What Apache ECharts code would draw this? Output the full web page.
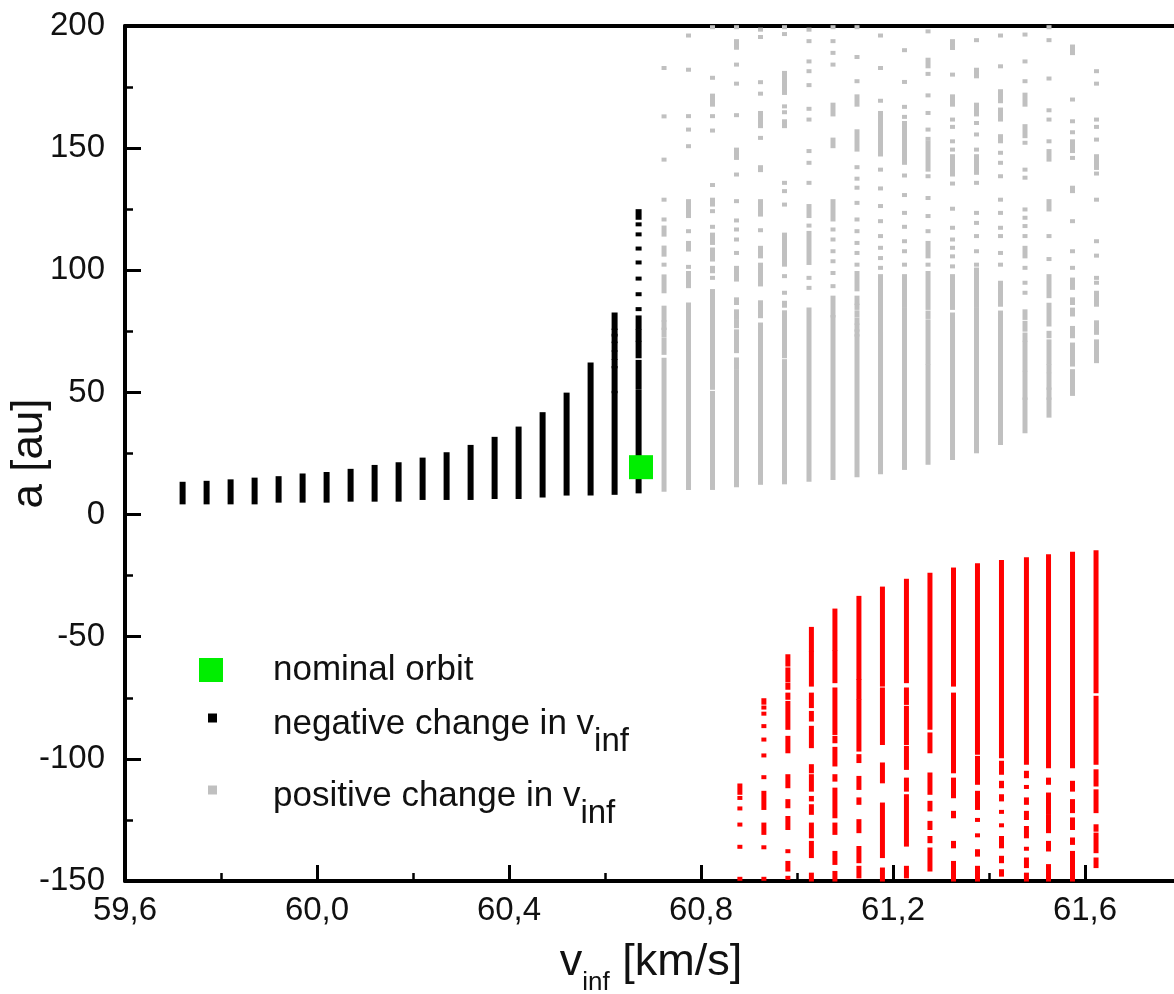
<!DOCTYPE html>
<html>
<head>
<meta charset="utf-8">
<script src="https://cdn.jsdelivr.net/npm/echarts/dist/echarts.min.js"></script>
<style>
html,body{margin:0;padding:0;background:#fff;}
#chart{width:1174px;height:994px;}
</style>
</head>
<body>
<div id="chart"></div>
<script>
// ---------- data (v_inf in km/s, a in au) ----------
const nominalOrbit = [60.675, 19.4];

const blackX = [59.72, 59.77, 59.82, 59.87, 59.92, 59.97, 60.02, 60.07, 60.12, 60.17,
                60.22, 60.27, 60.32, 60.37, 60.42, 60.47, 60.52, 60.57, 60.62, 60.67];
// each entry: list of runs; [lo,hi] = continuous run of points, single number = isolated point
const blackRuns = [
  [[5.0,12.6]], [[5.0,13.0]], [[5.0,13.6]], [[5.0,14.3]], [[5.7,14.9]],
  [[5.7,16.0]], [[5.7,16.6]], [[6.1,17.9]], [[6.1,19.5]], [[6.1,20.6]],
  [[6.8,22.5]], [[6.8,24.7]], [[6.8,27.7]], [[7.2,31.0]], [[7.2,35.2]],
  [[7.8,41.1]], [[8.6,49.1]], [[8.6,61.4]],
  [[76.4,81.9],[73.7,75.3],[71.0,73.2],[67.5,70.0],[64.1,66.4],[60.7,62.8],[50.5,60.0],[8.9,49.8]],
  [[121.5,124.2],118.8,114.7,108.9,103.2,96.6,90.2,84.1,[76.4,80.7],[71.6,75.0],[64.8,70.3],[51.9,62.5],[9.5,50.2]]
];

const grayX = [60.723, 60.774, 60.824, 60.874, 60.924, 60.974, 61.025, 61.075, 61.125, 61.174,
               61.224, 61.273, 61.324, 61.374, 61.424, 61.475, 61.525, 61.574, 61.624];
const grayRuns = [
  [182.8,163.0,145.3,128.9,120.8,[114.6,117.5],[106.4,109.3],102.3,[91.4,97.5],[79.8,84.7],[76.4,78.7],[73.3,75.7],[66.2,71.6],[10.2,63.4]],
  [196.1,182.1,163.1,157.6,150.8,[122.2,128.3],116.0,[108.5,111.2],101.4,[93.5,98.9],[79.8,86.0],[67.5,79.5],[10.9,66.2]],
  [199.5,178.8,[167.8,171.5],163.1,157.2,134.9,[126.9,128.9],124.2,117.8,[111.2,114.6],[104.4,108.5],[99.6,101.0],96.9,[88.8,91.5],[81.5,88.0],[62.1,80.5],[51.9,61.4],[10.9,49.8]],
  [199.5,[191.1,193.8],184.2,176.4,163.5,149.4,[146.0,148.1],139.2,128.3,120.4,116.7,112.6,107.1,[96.2,101.0],[86.6,88.1],[80.5,83.2],[77.1,79.1],[73.0,75.0],[66.9,71.6],[60.1,63.5],[12.0,58.7]],
  [198.5,195.5,177.0,172.3,[159.0,164.4],154.2,[141.0,142.2],[122.8,128.3],116.4,[105.7,109.2],[94.2,102.3],[81.2,86.9],[62.1,77.8],[50.5,61.4],[13.0,49.8]],
  [199.5,196.7,[172.6,180.8],167.1,164.7,[159.0,161.0],135.8,132.4,126.9,[102.3,114.6],97.6,90.8,[85.5,86.7],[70.3,82.8],[64.8,69.6],[13.2,62.8]],
  [198.5,193.8,185.5,181.5,175.8,166.1,161.7,148.8,144.0,135.8,[122.2,126.3],118.3,[103.0,115.3],96.9,92.8,[14.3,83.9]],
  [199.5,193.8,189.0,184.2,[163.8,167.8],[150.8,153.5],[120.8,128.3],116.7,112.6,107.8,103.7,98.9,93.5,[81.5,88.8],[15.0,80.9]],
  [199.5,187.3,177.4,[167.8,171.2],[149.4,156.9],142.2,137.5,133.8,127.6,120.8,116.0,111.2,107.1,102.3,[92.2,98.9],[86.6,88.8],[84.6,85.5],[81.5,82.8],[78.5,79.8],[75.7,77.4],[73.7,75.0],[16.1,73.0]],
  [196.1,182.8,169.4,[147.4,164.4],141.2,133.5,126.3,120.1,114.0,109.2,105.0,101.0,[85.4,97.6],[83.2,84.6],[80.5,81.9],[77.1,79.5],[74.6,76.0],[17.3,74.1]],
  [190.1,177.1,166.9,162.8,[144.0,160.3],138.8,130.8,123.5,117.8,111.9,107.8,102.3,[85.4,97.6],[82.5,83.9],[79.8,81.5],[76.4,78.5],[62.1,75.7],[19.1,61.4]],
  [197.8,[183.5,186.2],180.4,171.6,164.4,157.6,153.8,[141.2,152.2],138.5,129.6,122.2,116.0,[105.7,111.2],102.3,[84.6,98.9],[80.9,82.7],[62.1,79.1],[21.2,60.7]],
  [[191.0,193.8],180.1,[167.8,171.2],161.7,158.7,152.8,149.4,[139.2,146.7],135.5,125.2,117.4,112.6,109.2,105.7,101.6,[84.6,97.6],[79.1,81.9],[23.2,78.2]],
  [194.2,[179.4,182.1],[163.8,167.8],160.3,155.6,149.4,[139.9,146.7],135.8,123.5,119.4,114.0,107.8,102.3,[85.4,100.3],[81.2,83.9],[75.0,80.5],[62.1,74.4],[49.8,61.4],[25.9,49.1]],
  [196.1,183.5,[169.2,173.3],[161.7,165.8],[152.8,154.9],148.1,144.0,138.5,128.9,123.5,117.4,114.0,107.1,102.3,[88.1,94.9],[85.9,88.0],[75.7,82.7],[63.5,74.6],[60.7,62.1],[29.3,59.4]],
  [196.5,185.5,177.4,[167.8,171.9],[154.9,159.0],152.2,141.2,137.9,124.9,121.5,118.1,114.0,[105.7,109.2],101.0,94.9,90.8,[80.5,83.2],[75.7,78.5],[71.6,73.7],[59.4,70.3],[47.8,58.0],[34.1,47.1]],
  [199.5,194.2,178.5,165.5,161.7,152.8,[145.3,148.8],[124.9,128.3],114.0,104.6,[89.4,97.6],[77.8,85.9],[73.0,74.4],[62.1,70.9],[58.7,60.7],[51.9,57.3],[47.8,51.2],[40.5,47.1]],
  [[188.9,191.6],169.9,161.0,156.5,[148.8,152.8],146.0,[132.4,133.8],120.1,107.8,101.0,[92.8,96.2],[86.6,88.1],[81.9,83.9],[73.0,76.4],[61.4,69.6],[56.6,58.7],[49.4,55.3]],
  [181.5,176.4,161.7,158.7,153.5,[141.9,146.7],139.6,128.9,111.9,106.0,96.9,94.9,[85.9,90.8],[74.4,78.7],[65.5,70.9],[62.8,64.8]]
];

const redX = [60.881, 60.931, 60.981, 61.030, 61.079, 61.129, 61.178, 61.228,
              61.277, 61.326, 61.376, 61.426, 61.478, 61.524, 61.574, 61.623];
const redRuns = [
  [[-110.9,-113.9],-116.0,-120.3,-126.9,-136.0,-149.1],
  [[-76.0,-77.0],-79.0,-81.5,-86.6,-92.1,-98.6,-107.5,[-113.9,-120.1],[-126.9,-130.3],-136.2,-149.1],
  [[-58.0,-61.4],[-63.4,-67.8],[-69.6,-70.9],[-73.7,-75.0],[-77.1,-87.3],[-91.4,-96.9],[-107.1,-111.2],[-117.3,-119.4],[-124.2,-128.3],-137.8,[-142.6,-145.3],-148.7],
  [[-46.8,-55.3],[-56.6,-69.6],[-73.7,-78.4],[-81.2,-83.9],[-87.3,-94.8],[-103.0,-105.1],[-107.1,-112.6],[-116.0,-116.6],[-119.4,-122.1],[-126.9,-131.7],[-134.4,-139.8],[-147.4,-149.4]],
  [[-39.3,-55.0],[-56.4,-68.2],[-71.6,-89.4],[-91.4,-92.8],[-95.9,-102.3],[-107.1,-108.5],[-112.6,-123.5],[-126.9,-130.3],[-138.5,-142.6],[-146.7,-149.4]],
  [[-34.1,-66.9],[-68.2,-75.0],[-76.4,-96.2],[-98.9,-100.9],[-107.8,-111.9],[-116.6,-118.0],[-125.5,-129.6],[-136.5,-141.9],[-144.6,-148.1]],
  [[-30.3,-69.6],[-71.6,-93.5],[-102.3,-109.2],[-118.7,-139.8],[-145.3,-149.4]],
  [[-27.1,-68.2],[-71.6,-77.1],[-79.1,-93.5],[-95.5,-103.7],[-108.5,-112.6],[-115.3,-135.1],[-144.6,-148.1]],
  [[-24.6,-87.3],[-90.0,-96.9],[-106.4,-113.9],[-118.0,-120.7],[-126.2,-128.3],[-132.4,-133.7],[-137.1,-145.3]],
  [[-22.5,-69.6],[-73.7,-105.1],[-108.5,-115.3],[-122.1,-123.5],[-134.4,-135.8],[-142.6,-149.4]],
  [[-20.7,-97.5],[-99.6,-109.8],[-113.9,-120.1],-125.0,-131.3,[-137.8,-139.2],[-144.6,-149.4]],
  [[-19.4,-98.9],[-101.6,-105.7],[-109.8,-111.2],[-115.3,-116.6],-121.7,-127.2,[-132.4,-135.8],[-140.5,-141.9],[-146.0,-147.4]],
  [[-18.3,-101.6],[-105.7,-107.1],-111.5,[-116.6,-118.0],[-122.1,-124.2],[-128.3,-131.7],-136.8,[-141.2,-143.9],[-147.4,-149.4]],
  [[-17.1,-103.0],[-108.5,-109.8],[-114.6,-122.1],[-123.5,-129.6],[-134.4,-137.1],[-143.9,-149.4]],
  [[-16.0,-103.0],[-109.8,-112.6],[-117.3,-121.4],[-124.8,-128.3],[-133.0,-134.4],[-138.5,-149.4]],
  [[-15.4,-72.3],[-75.0,-101.6],[-105.1,-110.5],[-113.3,-121.4],[-127.6,-129.0],[-131.0,-137.8],[-141.2,-143.9]]
];

const xTicks = { min: 59.6, max: 62.0, interval: 0.4 };
const yTicks = { min: -150, max: 200, interval: 50 };

// ---------- build ----------
function build(xs, runs) {
  const out = [];
  xs.forEach((x, i) => runs[i].forEach(r => {
    if (Array.isArray(r)) out.push([x, Math.min(r[0], r[1]), Math.max(r[0], r[1])]);
    else out.push([x, r, r]);
  }));
  return out;
}
function colRender(w, pad) {
  return function (params, api) {
    const x = api.value(0), lo = api.value(1), hi = api.value(2);
    const t = api.coord([x, hi]), b = api.coord([x, lo]);
    const y0 = t[1] - pad, h = (b[1] - t[1]) + 2 * pad;
    return { type: 'rect', shape: { x: t[0] - w / 2, y: y0, width: w, height: h },
             style: { fill: api.visual('color') } };
  };
}

const FONT = '"Liberation Sans", Arial, sans-serif';
const TXT = '#111111';
const chart = echarts.init(document.getElementById('chart'), null, { renderer: 'canvas' });

const legendBase = {
  orient: 'vertical', icon: 'rect', itemGap: 0, padding: 0, selectedMode: false
};
const subRich = {
  a: { fontSize: 35, fontFamily: FONT, color: TXT, lineHeight: 40, padding: [9, 0, 0, 0], verticalAlign: 'top' },
  s: { fontSize: 33, fontFamily: FONT, color: TXT, lineHeight: 30, padding: [27, 0, 0, 0], verticalAlign: 'top' }
};

chart.setOption({
  animation: false,
  backgroundColor: '#fff',
  grid: { left: 125, right: -103, top: 26, bottom: 113, containLabel: false, outerBoundsMode: 'none' },
  xAxis: [{
    type: 'value', position: 'bottom', min: xTicks.min, max: xTicks.max, interval: xTicks.interval,
    axisLine: { show: true, onZero: false, lineStyle: { color: '#000', width: 4 } },
    axisTick: { show: true, inside: true, length: 16, lineStyle: { color: '#000', width: 3 } },
    minorTick: { show: true, splitNumber: 2, length: 8, lineStyle: { color: '#000', width: 2.5 } },
    splitLine: { show: false },
    axisLabel: {
      show: true, margin: 12, fontSize: 33, fontFamily: FONT, color: TXT, lineHeight: 36,
      formatter: v => (v > 61.7 ? '' : v.toFixed(1).replace('.', ','))
    },
    name: '{a|v}{s|inf}{a| [km/s]}',
    nameLocation: 'middle', nameGap: 59, nameMoveOverlap: false,
    nameTextStyle: {
      padding: [0, 100, 0, 0],
      rich: {
        a: { fontSize: 45, fontFamily: FONT, color: TXT, lineHeight: 48, verticalAlign: 'top' },
        s: { fontSize: 26, fontFamily: FONT, color: TXT, lineHeight: 24, padding: [30, 0, 0, 0], verticalAlign: 'top' }
      }
    }
  }, {
    type: 'value', position: 'top', min: xTicks.min, max: xTicks.max, interval: xTicks.interval,
    axisLine: { show: true, onZero: false, lineStyle: { color: '#000', width: 4 } },
    axisTick: { show: false }, axisLabel: { show: false }, splitLine: { show: false }
  }],
  yAxis: {
    type: 'value', min: yTicks.min, max: yTicks.max, interval: yTicks.interval,
    axisLine: { show: true, onZero: false, lineStyle: { color: '#000', width: 4 } },
    axisTick: { show: true, inside: true, length: 16, lineStyle: { color: '#000', width: 3 } },
    minorTick: { show: true, splitNumber: 2, length: 8, lineStyle: { color: '#000', width: 2.5 } },
    splitLine: { show: false },
    axisLabel: { margin: 20, fontSize: 33, fontFamily: FONT, color: TXT },
    name: 'a [au]', nameLocation: 'middle', nameGap: 71, nameMoveOverlap: false,
    nameTextStyle: { fontSize: 44, fontFamily: FONT, color: TXT, lineHeight: 48 }
  },
  legend: [
    Object.assign({}, legendBase, {
      data: [{ name: 'nominal orbit' }], left: 199, top: 650, itemWidth: 24, itemHeight: 24,
      textStyle: { fontSize: 35, fontFamily: FONT, color: TXT, lineHeight: 40, padding: [0, 0, 0, 45] }
    }),
    Object.assign({}, legendBase, {
      data: [{ name: 'negative change in vinf' }], left: 208, top: 698, itemWidth: 9, itemHeight: 9,
      formatter: () => '{a|negative change in v}{s|inf}',
      textStyle: { padding: [0, 0, 0, 51], rich: subRich }
    }),
    Object.assign({}, legendBase, {
      data: [{ name: 'positive change in vinf' }], left: 208, top: 770, itemWidth: 9, itemHeight: 9,
      formatter: () => '{a|positive change in v}{s|inf}',
      textStyle: { padding: [0, 0, 0, 51], rich: subRich }
    })
  ],
  series: [
    {
      name: 'positive change in vinf', type: 'custom', renderItem: colRender(5, 2),
      itemStyle: { color: '#c0c0c0' }, encode: { x: 0, y: [1, 2] },
      data: build(grayX, grayRuns), z: 2
    },
    {
      name: 'negative change in vinf', type: 'custom', renderItem: colRender(6, 2),
      itemStyle: { color: '#000000' }, encode: { x: 0, y: [1, 2] },
      data: build(blackX, blackRuns), z: 3
    },
    {
      name: 'positive change (a<0)', type: 'custom', renderItem: colRender(5, 2),
      itemStyle: { color: '#ff0000' }, encode: { x: 0, y: [1, 2] },
      data: build(redX, redRuns), z: 3
    },
    {
      name: 'nominal orbit', type: 'scatter', symbol: 'rect', symbolSize: 24,
      itemStyle: { color: '#00ee00', opacity: 1 }, data: [nominalOrbit], z: 5
    }
  ]
});
</script>
</body>
</html>
